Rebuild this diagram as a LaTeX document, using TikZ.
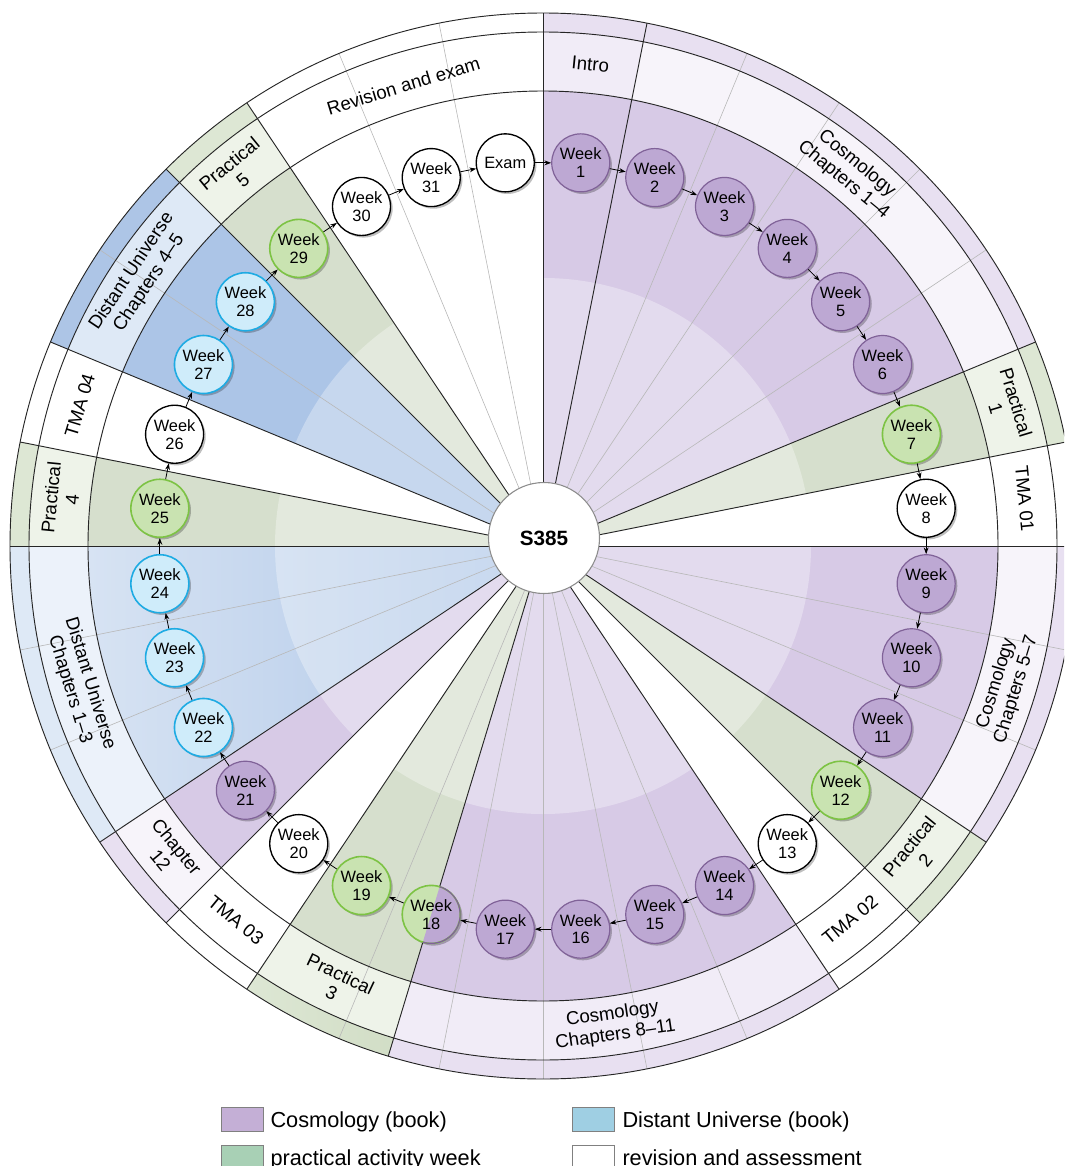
\documentclass[tikz,border=0pt]{standalone}
\usepackage{fontspec}
\setmainfont{Liberation Sans}
\usetikzlibrary{arrows.meta,shadows}

\definecolor{cosmoWedge}{RGB}{215,202,230}
\definecolor{cosmoNode}{RGB}{189,168,211}
\definecolor{cosmoEdge}{RGB}{128,98,152}
\definecolor{cosmoRing}{RGB}{247,244,250}
\definecolor{cosmoOuter}{RGB}{232,224,241}
\definecolor{introRing}{RGB}{241,236,247}
\definecolor{practWedge}{RGB}{214,223,205}
\definecolor{practNode}{RGB}{201,227,177}
\definecolor{practEdge}{RGB}{125,195,68}
\definecolor{practRing}{RGB}{238,243,233}
\definecolor{practOuter}{RGB}{221,231,212}
\definecolor{practOuterDark}{RGB}{198,212,184}
\definecolor{distWedge}{RGB}{172,197,231}
\definecolor{distWedgeLight}{RGB}{215,227,243}
\definecolor{distNode}{RGB}{207,236,250}
\definecolor{distEdge}{RGB}{30,171,227}
\definecolor{distRing}{RGB}{222,233,246}
\definecolor{distRingLight}{RGB}{236,242,250}
\definecolor{distOuter}{RGB}{173,197,230}
\definecolor{distOuterLight}{RGB}{222,233,246}
\definecolor{keyCosmo}{RGB}{196,175,214}
\definecolor{keyDist}{RGB}{159,207,227}
\definecolor{keyPract}{RGB}{168,208,181}

\newcommand{\weekfont}{\fontsize{12.3}{13.4}\selectfont}
\newcommand{\ringfont}{\fontsize{14}{15.8}\selectfont}
\newcommand{\keyfont}{\fontsize{16.3}{18}\selectfont}

\tikzset{every picture/.style={line width=0.75pt}}
\tikzset{
  weekbase/.style={circle, minimum size=43.5pt, inner sep=0pt, align=center, font=\weekfont},
  week/.style={weekbase, drop shadow={shadow xshift=1.6pt, shadow yshift=-1.6pt, opacity=0.25, fill=black}},
  cosmonode/.style={week, draw=cosmoEdge, fill=cosmoNode, line width=0.9pt},
  practnode/.style={week, draw=practEdge, fill=practNode, line width=1.2pt},
  distnode/.style={week, draw=distEdge, fill=distNode, line width=1.2pt},
  revnode/.style={week, draw=black, fill=white, line width=1pt},
  hub/.style={circle, draw=black!45, fill=white, minimum size=83.25pt, inner sep=0pt, line width=0.8pt, font=\fontsize{15.5}{18}\selectfont\bfseries},
  link/.style={-{Stealth[length=5pt,width=3.6pt]}, line width=0.6pt},
  ringlabel/.style={align=center, font=\ringfont, inner sep=0pt},
  slotline/.style={draw=black!28, line width=0.45pt},
  bound/.style={draw=black!85, line width=0.7pt},
  keybox/.style={draw=black!50, line width=0.6pt},
  keytext/.style={anchor=base west, font=\keyfont, inner sep=0pt}
}

\begin{document}
\begin{tikzpicture}[x=0.75pt,y=0.75pt,yscale=-1,xscale=1]
\useasboundingbox (0,0) rectangle (1064,1166);
\clip (0,0) rectangle (1064,1166);
\coordinate (c) at (543,546);

% Outer ring fills
\fill[cosmoOuter] (c) -- ++(-90:533) arc[start angle=-90, end angle=-22.5, radius=533] -- cycle;
\fill[practOuter] (c) -- ++(-22.5:533) arc[start angle=-22.5, end angle=-11.25, radius=533] -- cycle;
\fill[cosmoOuter] (c) -- ++(0:533) arc[start angle=0, end angle=33.75, radius=533] -- cycle;
\fill[practOuter] (c) -- ++(33.75:533) arc[start angle=33.75, end angle=45, radius=533] -- cycle;
\fill[cosmoOuter] (c) -- ++(56.25:533) arc[start angle=56.25, end angle=106.875, radius=533] -- cycle;
\shade[left color=practOuter, right color=practOuterDark] (c) -- ++(106.875:533) arc[start angle=106.875, end angle=123.75, radius=533] -- cycle;
\fill[cosmoOuter] (c) -- ++(135:533) arc[start angle=135, end angle=146.25, radius=533] -- cycle;
\fill[distOuterLight] (c) -- ++(146.25:533) arc[start angle=146.25, end angle=180, radius=533] -- cycle;
\fill[practOuter] (c) -- ++(180:533) arc[start angle=180, end angle=191.25, radius=533] -- cycle;
\fill[distOuter] (c) -- ++(202.5:533) arc[start angle=202.5, end angle=225, radius=533] -- cycle;
\fill[practOuter] (c) -- ++(225:533) arc[start angle=225, end angle=236.25, radius=533] -- cycle;

% Label ring fills
\fill[introRing] (c) -- ++(-90:514) arc[start angle=-90, end angle=-78.75, radius=514] -- cycle;
\fill[cosmoRing] (c) -- ++(-78.75:514) arc[start angle=-78.75, end angle=-22.5, radius=514] -- cycle;
\fill[practRing] (c) -- ++(-22.5:514) arc[start angle=-22.5, end angle=-11.25, radius=514] -- cycle;
\fill[cosmoRing] (c) -- ++(0:514) arc[start angle=0, end angle=33.75, radius=514] -- cycle;
\fill[practRing] (c) -- ++(33.75:514) arc[start angle=33.75, end angle=45, radius=514] -- cycle;
\fill[introRing] (c) -- ++(56.25:514) arc[start angle=56.25, end angle=106.875, radius=514] -- cycle;
\fill[practRing] (c) -- ++(106.875:514) arc[start angle=106.875, end angle=123.75, radius=514] -- cycle;
\fill[cosmoRing] (c) -- ++(135:514) arc[start angle=135, end angle=146.25, radius=514] -- cycle;
\fill[distRingLight] (c) -- ++(146.25:514) arc[start angle=146.25, end angle=180, radius=514] -- cycle;
\fill[practRing] (c) -- ++(180:514) arc[start angle=180, end angle=191.25, radius=514] -- cycle;
\fill[distRing] (c) -- ++(202.5:514) arc[start angle=202.5, end angle=225, radius=514] -- cycle;
\fill[practRing] (c) -- ++(225:514) arc[start angle=225, end angle=236.25, radius=514] -- cycle;

% Wedge fills
\fill[cosmoWedge] (c) -- ++(-90:455) arc[start angle=-90, end angle=-22.5, radius=455] -- cycle;
\fill[practWedge] (c) -- ++(-22.5:455) arc[start angle=-22.5, end angle=-11.25, radius=455] -- cycle;
\fill[cosmoWedge] (c) -- ++(0:455) arc[start angle=0, end angle=33.75, radius=455] -- cycle;
\fill[practWedge] (c) -- ++(33.75:455) arc[start angle=33.75, end angle=45, radius=455] -- cycle;
\fill[cosmoWedge] (c) -- ++(56.25:455) arc[start angle=56.25, end angle=106.875, radius=455] -- cycle;
\fill[practWedge] (c) -- ++(106.875:455) arc[start angle=106.875, end angle=123.75, radius=455] -- cycle;
\fill[cosmoWedge] (c) -- ++(135:455) arc[start angle=135, end angle=146.25, radius=455] -- cycle;
\shade[left color=distWedgeLight, right color=distWedge] (c) -- ++(146.25:455) arc[start angle=146.25, end angle=180, radius=455] -- cycle;
\fill[practWedge] (c) -- ++(180:455) arc[start angle=180, end angle=191.25, radius=455] -- cycle;
\fill[distWedge] (c) -- ++(202.5:455) arc[start angle=202.5, end angle=225, radius=455] -- cycle;
\fill[practWedge] (c) -- ++(225:455) arc[start angle=225, end angle=236.25, radius=455] -- cycle;

% Lighter inner disc
\fill[white, opacity=0.32] (c) circle[radius=268];

% Straight Lines (week boundaries)
\draw[slotline] (c) -- ++(11.25:533);
\draw[slotline] (c) -- ++(22.5:533);
\draw[slotline] (c) -- ++(67.5:533);
\draw[slotline] (c) -- ++(78.75:533);
\draw[slotline] (c) -- ++(90:533);
\draw[slotline] (c) -- ++(101.25:533);
\draw[slotline] (c) -- ++(112.5:533);
\draw[slotline] (c) -- ++(157.5:533);
\draw[slotline] (c) -- ++(168.75:533);
\draw[slotline] (c) -- ++(213.75:533);
\draw[slotline] (c) -- ++(247.5:533);
\draw[slotline] (c) -- ++(258.75:533);
\draw[slotline] (c) -- ++(292.5:533);
\draw[slotline] (c) -- ++(303.75:533);
\draw[slotline] (c) -- ++(315:533);
\draw[slotline] (c) -- ++(326.25:533);

% Straight Lines (block boundaries)
\draw[bound] (c) -- ++(0:533);
\draw[bound] (c) -- ++(33.75:533);
\draw[bound] (c) -- ++(45:533);
\draw[bound] (c) -- ++(56.25:533);
\draw[bound] (c) -- ++(106.875:533);
\draw[bound] (c) -- ++(123.75:533);
\draw[bound] (c) -- ++(135:533);
\draw[bound] (c) -- ++(146.25:533);
\draw[bound] (c) -- ++(180:533);
\draw[bound] (c) -- ++(191.25:533);
\draw[bound] (c) -- ++(202.5:533);
\draw[bound] (c) -- ++(225:533);
\draw[bound] (c) -- ++(236.25:533);
\draw[bound] (c) -- ++(270:533);
\draw[bound] (c) -- ++(281.25:533);
\draw[bound] (c) -- ++(337.5:533);
\draw[bound] (c) -- ++(348.75:533);

% Rings
\draw[bound] (c) circle[radius=455];
\draw[bound] (c) circle[radius=514];
\draw[bound] (c) circle[radius=533];

% Centre
\node[hub] (hub) at (544,538) {S385};

% Week nodes
\node[revnode] (exam) at (505.26,162.85) {Exam};
\node[cosmonode] (w1) at (580.74,162.85) {Week\\1};
\node[cosmonode] (w2) at (654.76,177.58) {Week\\2};
\node[cosmonode] (w3) at (724.49,206.46) {Week\\3};
\node[cosmonode] (w4) at (787.24,248.39) {Week\\4};
\node[cosmonode] (w5) at (840.61,301.76) {Week\\5};
\node[cosmonode] (w6) at (882.54,364.51) {Week\\6};
\node[practnode] (w7) at (911.42,434.24) {Week\\7};
\node[revnode] (w8) at (926.15,508.26) {Week\\8};
\node[cosmonode] (w9) at (926.15,583.74) {Week\\9};
\node[cosmonode] (w10) at (911.42,657.76) {Week\\10};
\node[cosmonode] (w11) at (882.54,727.49) {Week\\11};
\node[practnode] (w12) at (840.61,790.24) {Week\\12};
\node[revnode] (w13) at (787.24,843.61) {Week\\13};
\node[cosmonode] (w14) at (724.49,885.54) {Week\\14};
\node[cosmonode] (w15) at (654.76,914.42) {Week\\15};
\node[cosmonode] (w16) at (580.74,929.15) {Week\\16};
\node[cosmonode] (w17) at (505.26,929.15) {Week\\17};
% Week 18, half practical and half cosmology
\fill[black, opacity=0.25] (433.4,916.6) circle[radius=29];
\fill[practNode] (431.24,914.42) circle[radius=29];
\fill[cosmoNode] (431.24,914.42) -- ++(106.875:29) arc[start angle=106.875, end angle=-73.125, radius=29] -- cycle;
\node[weekbase, draw=practEdge, line width=1.2pt] (w18) at (431.24,914.42) {Week\\18};
\draw[cosmoEdge, line width=0.9pt] (431.24,914.42) ++(106.875:29) arc[start angle=106.875, end angle=-73.125, radius=29];
\node[practnode] (w19) at (361.51,885.54) {Week\\19};
\node[revnode] (w20) at (298.76,843.61) {Week\\20};
\node[cosmonode] (w21) at (245.39,790.24) {Week\\21};
\node[distnode] (w22) at (203.46,727.49) {Week\\22};
\node[distnode] (w23) at (174.58,657.76) {Week\\23};
\node[distnode] (w24) at (159.85,583.74) {Week\\24};
\node[practnode] (w25) at (159.85,508.26) {Week\\25};
\node[revnode] (w26) at (174.58,434.24) {Week\\26};
\node[distnode] (w27) at (203.46,364.51) {Week\\27};
\node[distnode] (w28) at (245.39,301.76) {Week\\28};
\node[practnode] (w29) at (298.76,248.39) {Week\\29};
\node[revnode] (w30) at (361.51,206.46) {Week\\30};
\node[revnode] (w31) at (431.24,177.58) {Week\\31};

% Connections
\draw[link] (exam) -- (w1);
\draw[link] (w1) -- (w2);
\draw[link] (w2) -- (w3);
\draw[link] (w3) -- (w4);
\draw[link] (w4) -- (w5);
\draw[link] (w5) -- (w6);
\draw[link] (w6) -- (w7);
\draw[link] (w7) -- (w8);
\draw[link] (w8) -- (w9);
\draw[link] (w9) -- (w10);
\draw[link] (w10) -- (w11);
\draw[link] (w11) -- (w12);
\draw[link] (w12) -- (w13);
\draw[link] (w13) -- (w14);
\draw[link] (w14) -- (w15);
\draw[link] (w15) -- (w16);
\draw[link] (w16) -- (w17);
\draw[link] (w17) -- (w18);
\draw[link] (w18) -- (w19);
\draw[link] (w19) -- (w20);
\draw[link] (w20) -- (w21);
\draw[link] (w21) -- (w22);
\draw[link] (w22) -- (w23);
\draw[link] (w23) -- (w24);
\draw[link] (w24) -- (w25);
\draw[link] (w25) -- (w26);
\draw[link] (w26) -- (w27);
\draw[link] (w27) -- (w28);
\draw[link] (w28) -- (w29);
\draw[link] (w29) -- (w30);
\draw[link] (w30) -- (w31);
\draw[link] (w31) -- (exam);

% Ring labels
\node[ringlabel, rotate=16.875] (lrev) at (403.4,85.7) {Revision and exam};
\node[ringlabel, rotate=-5.625] (lintro) at (590.44,64.33) {Intro};
\node[ringlabel, rotate=-39.375] (lcos1) at (850.05,171.86) {Cosmology\\Chapters 1\textendash 4};
\node[ringlabel, rotate=-73.125] (lprac1) at (1006.16,405.5) {Practical\\1};
\node[ringlabel, rotate=-84.375] (ltma1) at (1024.67,498.56) {TMA 01};
\node[ringlabel, rotate=73.125] (lcos2) at (1006.16,686.5) {Cosmology\\Chapters 5\textendash 7};
\node[ringlabel, rotate=50.625] (lprac2) at (917.14,853.05) {Practical\\2};
\node[ringlabel, rotate=39.375] (ltma2) at (850.05,920.14) {TMA 02};
\node[ringlabel, rotate=8.4375] (lcos3) at (614.02,1024.76) {Cosmology\\Chapters 8\textendash 11};
\node[ringlabel, rotate=-25.3125] (lprac3) at (336.06,983.53) {Practical\\3};
\node[ringlabel, rotate=-39.375] (ltma3) at (235.95,920.14) {TMA 03};
\node[ringlabel, rotate=-50.625] (lch12) at (168.86,853.05) {Chapter\\12};
\node[ringlabel, rotate=-73.125] (ldist1) at (79.84,686.5) {Distant Universe\\Chapters 1\textendash 3};
\node[ringlabel, rotate=84.375] (lprac4) at (61.33,498.56) {Practical\\4};
\node[ringlabel, rotate=73.125] (ltma4) at (79.84,405.5) {TMA 04};
\node[ringlabel, rotate=56.25] (ldist2) at (140.57,277.1) {Distant Universe\\Chapters 4\textendash 5};
\node[ringlabel, rotate=39.375] (lprac5) at (235.95,171.86) {Practical\\5};

% Legend
\draw[keybox, fill=keyCosmo] (221,1107) rectangle (263,1131);
\node[keytext] (kcosmo) at (270,1127) {Cosmology (book)};
\draw[keybox, fill=keyDist] (572,1107) rectangle (614,1131);
\node[keytext] (kdist) at (622,1127) {Distant Universe (book)};
\draw[keybox, fill=keyPract] (221,1145) rectangle (263,1169);
\node[keytext] (kpract) at (270,1165) {practical activity week};
\draw[keybox, fill=white] (572,1145) rectangle (614,1169);
\node[keytext] (krev) at (622,1165) {revision and assessment};

\end{tikzpicture}
\end{document}
